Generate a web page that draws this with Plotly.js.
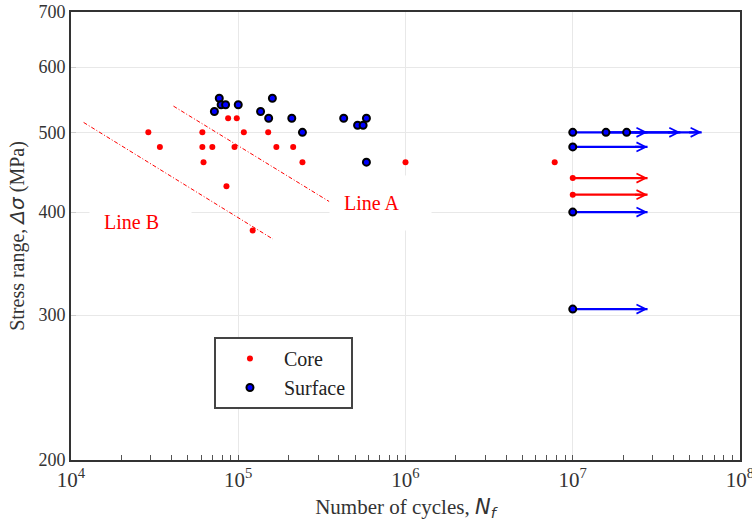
<!DOCTYPE html>
<html>
<head>
<meta charset="utf-8">
<script src="https://cdn.plot.ly/plotly-3.0.1.min.js"></script>
<style>html,body{margin:0;padding:0;background:#fff;}#chart{width:752px;height:521px;}</style>
</head>
<body>
<div id="chart"></div>
<script>
// Core specimens (failures and run-outs)
const coreCycles = [2.9e4, 3.4e4, 6.1e4, 6.1e4, 7.0e4, 6.2e4, 8.7e4, 9.8e4, 1.08e5, 9.5e4, 8.5e4, 1.51e5, 1.69e5, 2.13e5, 2.42e5, 1.0e6, 1.22e5, 7.8e6, 1e7, 1e7];
const coreStress = [500, 480, 500, 480, 480, 460, 520, 520, 500, 480, 430, 500, 480, 480, 460, 460, 380, 460, 440, 420];

// Surface specimens
const surfCycles = [7.7e4, 7.9e4, 8.4e4, 7.2e4, 1.0e5, 1.6e5, 1.36e5, 1.52e5, 2.09e5, 2.42e5, 4.27e5, 5.17e5, 5.58e5, 5.84e5, 5.84e5, 1e7, 1.58e7, 2.1e7, 1e7, 1e7, 1e7];
const surfStress = [550, 540, 540, 530, 540, 550, 530, 520, 520, 500, 520, 510, 510, 520, 460, 500, 500, 500, 480, 400, 305];

// Run-out arrows
const surfRunStart = [1e7, 1.58e7, 2.1e7, 1e7, 1e7, 1e7];
const surfRunEnd   = [2.8e7, 4.4e7, 5.9e7, 2.8e7, 2.8e7, 2.8e7];
const surfRunStress = [500, 500, 500, 480, 400, 305];
const coreRunStart = [1e7, 1e7];
const coreRunEnd   = [2.8e7, 2.8e7];
const coreRunStress = [440, 420];

// Reference lines
const lineACycles = [4.1e4, 3.5e5];
const lineAStress = [538, 412];
const lineBCycles = [1.19e4, 1.61e5];
const lineBStress = [514, 371];

// Line labels: text, left edge (cycles), centre (stress)
const labelText = ['Line A', 'Line B'];
const labelCycles = [3.51e5, 1.28e4];
const labelStress = [410, 389];

// Axis ticks
const xTickVals = [1e4, 1e5, 1e6, 1e7, 1e8];
const xTickText = ['10<sup>4</sup>', '10<sup>5</sup>', '10<sup>6</sup>', '10<sup>7</sup>', '10<sup>8</sup>'];
const yTickVals = [200, 300, 400, 500, 600, 700];
const yTickText = ['200', '300', '400', '500', '600', '700'];

const RED = '#ff0000', BLUE = '#0000ff';
const SERIF = 'Liberation Serif, Times New Roman, serif';

const traces = [];
surfRunStart.forEach((s, i) => traces.push({
  x: [s, surfRunEnd[i]], y: [surfRunStress[i], surfRunStress[i]], mode: 'lines',
  line: {color: BLUE, width: 2.3}, showlegend: false, hoverinfo: 'skip'
}));
coreRunStart.forEach((s, i) => traces.push({
  x: [s, coreRunEnd[i]], y: [coreRunStress[i], coreRunStress[i]], mode: 'lines',
  line: {color: RED, width: 2.3}, showlegend: false, hoverinfo: 'skip'
}));
traces.push({x: lineACycles, y: lineAStress, mode: 'lines', line: {color: RED, width: 1, dash: '4px,2px,1px,2px'}, showlegend: false, hoverinfo: 'skip'});
traces.push({x: lineBCycles, y: lineBStress, mode: 'lines', line: {color: RED, width: 1, dash: '4px,2px,1px,2px'}, showlegend: false, hoverinfo: 'skip'});
traces.push({x: coreCycles, y: coreStress, mode: 'markers', name: 'Core',
  marker: {color: RED, size: 6, line: {width: 0}}});
traces.push({x: surfCycles, y: surfStress, mode: 'markers', name: 'Surface',
  marker: {color: BLUE, size: 7, line: {color: '#000', width: 2}}});

const annotations = [];
const heads = [];
surfRunEnd.forEach((e, i) => heads.push([e, surfRunStress[i], BLUE]));
coreRunEnd.forEach((e, i) => heads.push([e, coreRunStress[i], RED]));
heads.forEach(h => annotations.push({
  x: Math.log10(h[0]), y: Math.log10(h[1]), xref: 'x', yref: 'y', text: '',
  showarrow: true, ax: -14, ay: 0, arrowhead: 5, arrowsize: 0.85, arrowwidth: 2.1,
  arrowcolor: h[2], standoff: 0
}));
labelText.forEach((t, i) => annotations.push({
  x: Math.log10(labelCycles[i]), y: Math.log10(labelStress[i]), xref: 'x', yref: 'y', text: t,
  showarrow: false, xanchor: 'left', yanchor: 'middle', align: 'left',
  font: {family: SERIF, size: 20, color: RED}, bgcolor: '#ffffff',
  borderpad: 14, width: 73, height: 26
}));

const minorVals = [];
for (let k = 4; k < 8; k++) for (let m = 2; m <= 9; m++) minorVals.push(m * Math.pow(10, k));

const layout = {
  width: 752, height: 521,
  margin: {l: 71, r: 12, t: 12, b: 61},
  paper_bgcolor: '#fff', plot_bgcolor: '#fff',
  font: {family: SERIF, size: 18, color: '#333'},
  xaxis: {
    type: 'log', range: [4, 8], tickmode: 'array', tickvals: xTickVals, ticktext: xTickText,
    ticks: 'inside', ticklen: 5, tickcolor: '#555', showgrid: true, gridcolor: '#e8e8e8', gridwidth: 1,
    minor: {tickmode: 'array', tickvals: minorVals, ticks: 'inside', ticklen: 5, tickcolor: '#555', showgrid: false},
    showline: true, mirror: true, linecolor: '#333', linewidth: 2, zeroline: false,
    ticklabeloverflow: 'allow',
    tickfont: {family: SERIF, size: 21, color: '#333'},
    title: {text: 'Number of cycles, <span style="font-family:DejaVu Sans;font-style:italic">N<sub>f</sub></span>', font: {family: SERIF, size: 21, color: '#333'}, standoff: 12}
  },
  yaxis: {
    type: 'log', range: [Math.log10(200), Math.log10(700)], tickmode: 'array', tickvals: yTickVals, ticktext: yTickText,
    ticks: 'inside', ticklen: 5, tickcolor: '#ccc', showgrid: true, gridcolor: '#e8e8e8', gridwidth: 1,
    showline: true, mirror: true, linecolor: '#333', linewidth: 2, zeroline: false,
    tickfont: {family: SERIF, size: 18, color: '#333'},
    title: {text: 'Stress range, <span style="font-family:DejaVu Sans;font-style:italic">Δσ</span> (MPa)', font: {family: SERIF, size: 20, color: '#333'}, standoff: 8}
  },
  legend: {
    x: 0.2137, y: 0.2746, xanchor: 'left', yanchor: 'top',
    bgcolor: '#fff', bordercolor: '#444', borderwidth: 2,
    font: {family: SERIF, size: 20, color: '#222'}, itemwidth: 58
  },
  annotations: annotations,
  showlegend: true
};

Plotly.newPlot('chart', traces, layout, {staticPlot: true, displayModeBar: false});
</script>
</body>
</html>
